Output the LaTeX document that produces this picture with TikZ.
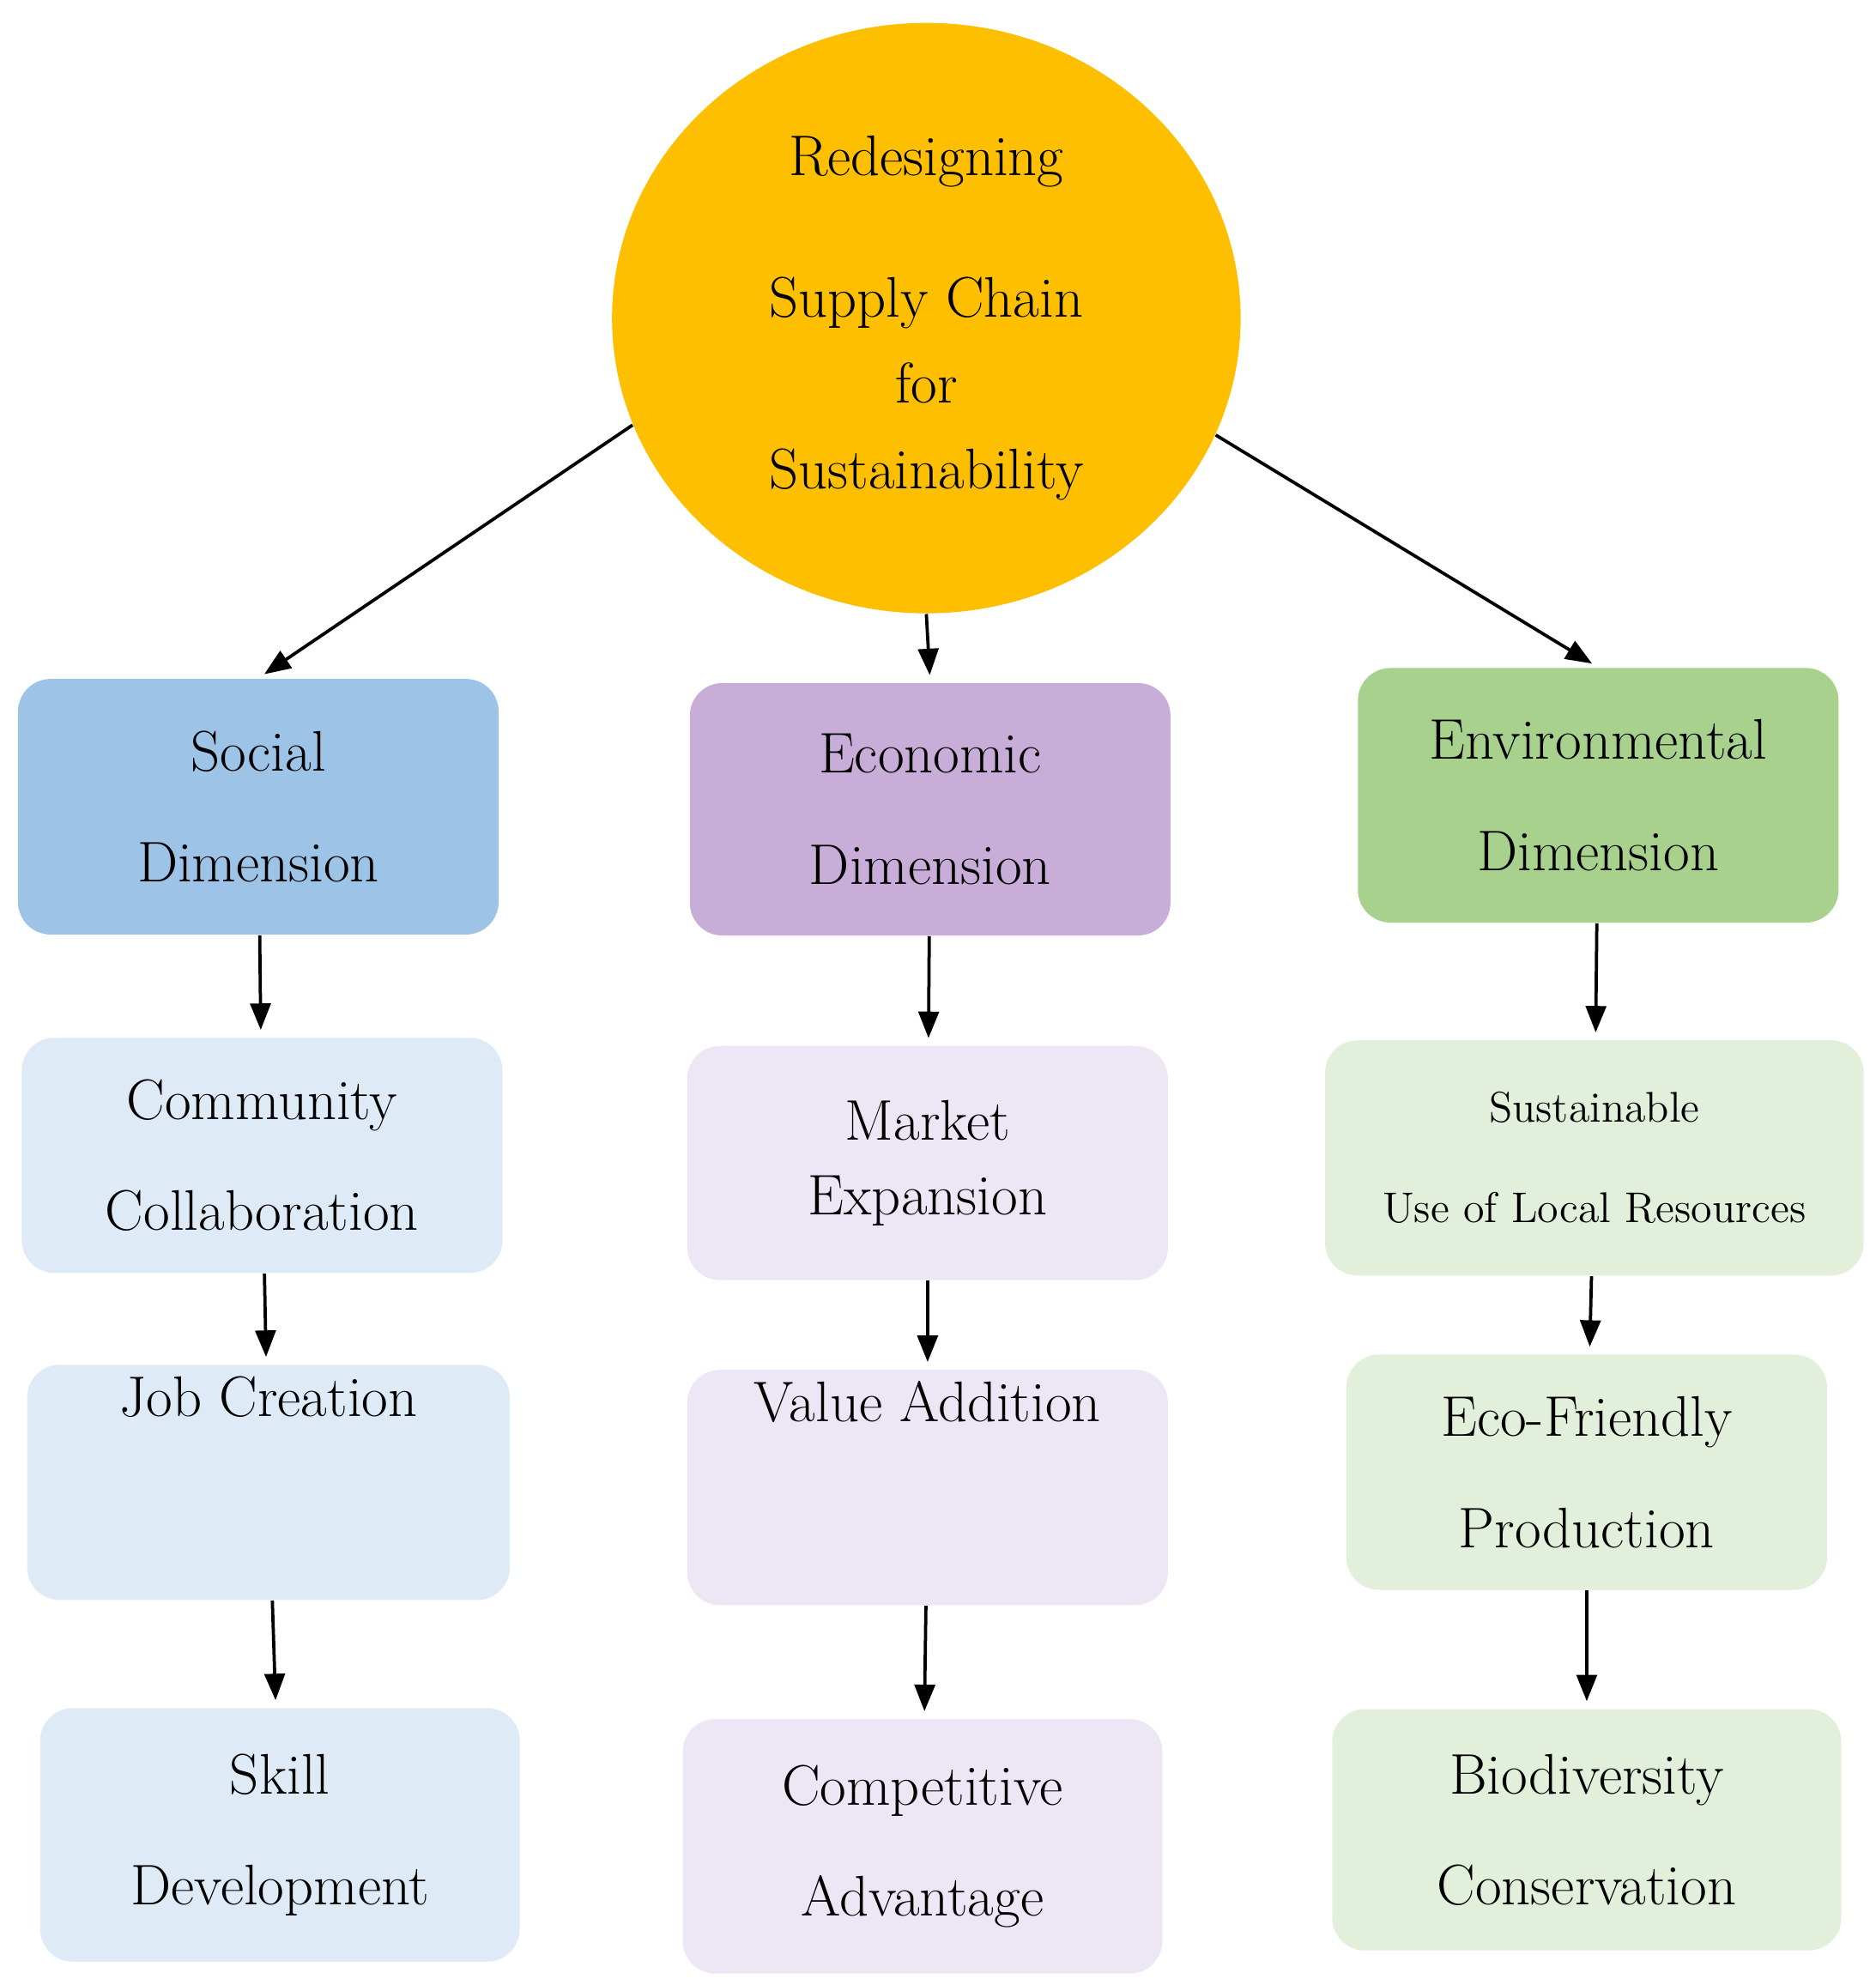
\documentclass[tikz,border=0pt]{standalone}
\usetikzlibrary{shapes.geometric,arrows.meta}
\definecolor{sun}{HTML}{FDBF00}
\definecolor{socd}{HTML}{9DC3E6}
\definecolor{ecod}{HTML}{C8ADD8}
\definecolor{envd}{HTML}{A9D18E}
\definecolor{socl}{HTML}{DEEBF7}
\definecolor{ecol}{HTML}{EDE6F4}
\definecolor{envl}{HTML}{E2EFDA}
\tikzset{
  box/.style={rectangle,rounded corners=0.32cm,align=center,inner sep=2pt,
    font=\fontsize{16}{31}\selectfont},
  arr/.style={-{Triangle[length=0.26cm,width=0.2cm]},line width=0.9pt,shorten >=2pt}
}
\begin{document}
\begin{tikzpicture}[x=0.0125cm,y=-0.0125cm]
\useasboundingbox (0,0) rectangle (1474,1560);
\node[ellipse,fill=sun,minimum width=494*0.0125cm,minimum height=464*0.0125cm,align=center,
  font=\fontsize{16}{24}\selectfont] (c) at (728,250)
  {Redesigning\\[0.55cm] Supply Chain\\ for\\ Sustainability};
% dimensions
\node[box,fill=socd,minimum width=4.72cm,minimum height=2.51cm] (s0) at (203,634) {Social\\ Dimension};
\node[box,fill=ecod,minimum width=4.72cm,minimum height=2.48cm] (e0) at (731,636) {Economic\\ Dimension};
\node[box,fill=envd,minimum width=4.72cm,minimum height=2.5cm] (v0) at (1256,625) {Environmental\\ Dimension};
% social column
\node[box,fill=socl,minimum width=4.72cm,minimum height=2.31cm] (s1) at (206,908) {Community\\ Collaboration};
\node[box,fill=socl,minimum width=4.74cm,minimum height=2.31cm] (s2) at (211,1165) {Job Creation\\[0.6cm]};
\node[box,fill=socl,minimum width=4.71cm,minimum height=2.49cm] (s3) at (220,1442) {Skill\\ Development};
% economic column
\node[box,fill=ecol,minimum width=4.72cm,minimum height=2.3cm,font=\fontsize{16}{21}\selectfont] (e1) at (729,914) {Market\\ Expansion};
\node[box,fill=ecol,minimum width=4.72cm,minimum height=2.31cm] (e2) at (729,1169) {Value Addition\\[0.6cm]};
\node[box,fill=ecol,minimum width=4.71cm,minimum height=2.5cm] (e3) at (725,1451) {Competitive\\ Advantage};
% environmental column
\node[box,fill=envl,minimum width=5.29cm,minimum height=2.31cm,font=\fontsize{12}{28}\selectfont] (v1) at (1253,910) {Sustainable\\ Use of Local Resources};
\node[box,fill=envl,minimum width=4.72cm,minimum height=2.31cm] (v2) at (1247,1157) {Eco-Friendly\\ Production};
\node[box,fill=envl,minimum width=5cm,minimum height=2.37cm] (v3) at (1247,1438) {Biodiversity\\ Conservation};
% connectors
\draw[arr] (c.200) -- (s0.north);
\draw[arr] (c.south) -- (e0.north);
\draw[arr] (c.338) -- (v0.north);
\draw[arr] (s0) -- (s1);
\draw[arr] (s1) -- (s2);
\draw[arr] (s2) -- (s3);
\draw[arr] (e0) -- (e1);
\draw[arr] (e1) -- (e2);
\draw[arr] (e2) -- (e3);
\draw[arr] (v0) -- (v1);
\draw[arr] (v1) -- (v2);
\draw[arr] (v2) -- (v3);
\end{tikzpicture}
\end{document}
